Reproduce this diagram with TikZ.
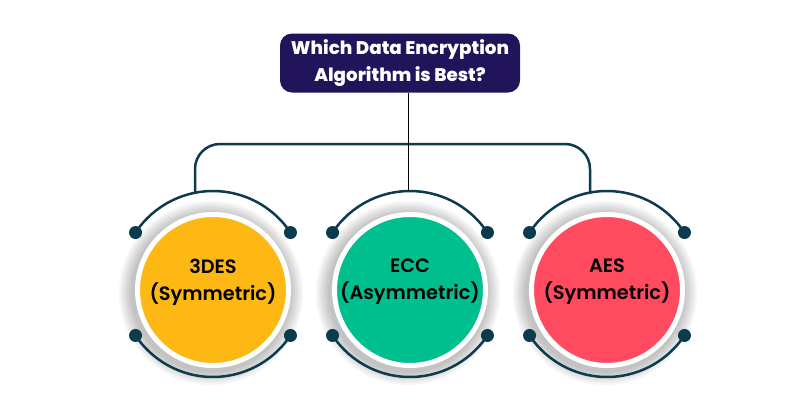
\documentclass[tikz,border=0pt]{standalone}
\usepackage{fontspec}
\setmainfont{Poppins}
\newfontfamily\medfont{Poppins SemiBold}
\newfontfamily\heavyfont{Poppins ExtraBold}
\usetikzlibrary{positioning,calc}
\definecolor{navy}{HTML}{21145A}
\definecolor{ink}{HTML}{0D3B4E}
\definecolor{pyellow}{HTML}{FDB813}
\definecolor{pgreen}{HTML}{00BF8E}
\definecolor{pred}{HTML}{FF4A5F}

\begin{document}
\begin{tikzpicture}[x=0.3mm, y=0.3mm,
  every node/.style={align=center},
  ttl/.style={rounded corners=3.6mm, fill=navy, text=white, minimum width=72mm,
              minimum height=17.7mm, font=\heavyfont\fontsize{15.6}{23}\selectfont},
  disc/.style={circle, draw=white, line width=1.5mm, minimum size=45.3mm, inner sep=0pt},
  txt/.style={font=\medfont\fontsize{16.5}{23}\selectfont, text=black},
  brk/.style={draw=ink, line width=0.75mm},
  lnk/.style={draw=black, line width=0.3mm},
  dot/.style={fill=ink},
]
\useasboundingbox (0,0) rectangle (800,400);
\fill[white] (0,0) rectangle (800,400);

% title
\node[ttl] (title) at (400,337) {Which Data Encryption\\Algorithm is Best?};

% soft shadows behind the discs
\foreach \cx in {213,410,607}{
  \foreach \r in {80,82,...,92}
    \fill[black, opacity=0.035] (\cx-2,107) circle[radius=\r];
}

% discs
\node[disc, fill=pyellow] (des) at (213,110) {};
\node[disc, fill=pgreen]  (ecc) at (410,110) {};
\node[disc, fill=pred]    (aes) at (607,110) {};
\node[txt] (desTxt) at ($(des)+(0,8)$) {3DES\\(Symmetric)};
\node[txt] (eccTxt) at ($(ecc)+(0,8)$) {ECC\\(Asymmetric)};
\node[txt] (aesTxt) at ($(aes)+(0,8)$) {AES\\(Symmetric)};

% outer arcs with end dots
\foreach \n in {des,ecc,aes}{
  \coordinate (\n Hub) at ($(\n)+(0,6)$);
  \draw[brk] ($(\n Hub)+(146.4:93)$) arc[start angle=146.4, end angle=33.6, radius=93];
  \draw[brk] ($(\n Hub)+(213.6:93)$) arc[start angle=213.6, end angle=326.4, radius=93];
  \foreach \a in {146.4,33.6,213.6,326.4}
    \fill[dot] ($(\n Hub)+(\a:93)$) circle[radius=6.5];
}

% connectors
\coordinate (desTop) at ($(desHub)+(-18,91.2)$);
\coordinate (aesTop) at ($(aesHub)+(-17,91.4)$);
\coordinate (eccTop) at ($(eccHub)+(-2,93)$);
\draw[brk, rounded corners=7.5mm] (desTop) -- (desTop |- 0,256) -- (aesTop |- 0,256) -- (aesTop);
\draw[lnk] (title.south -| eccTop) -- (eccTop);
\end{tikzpicture}
\end{document}
